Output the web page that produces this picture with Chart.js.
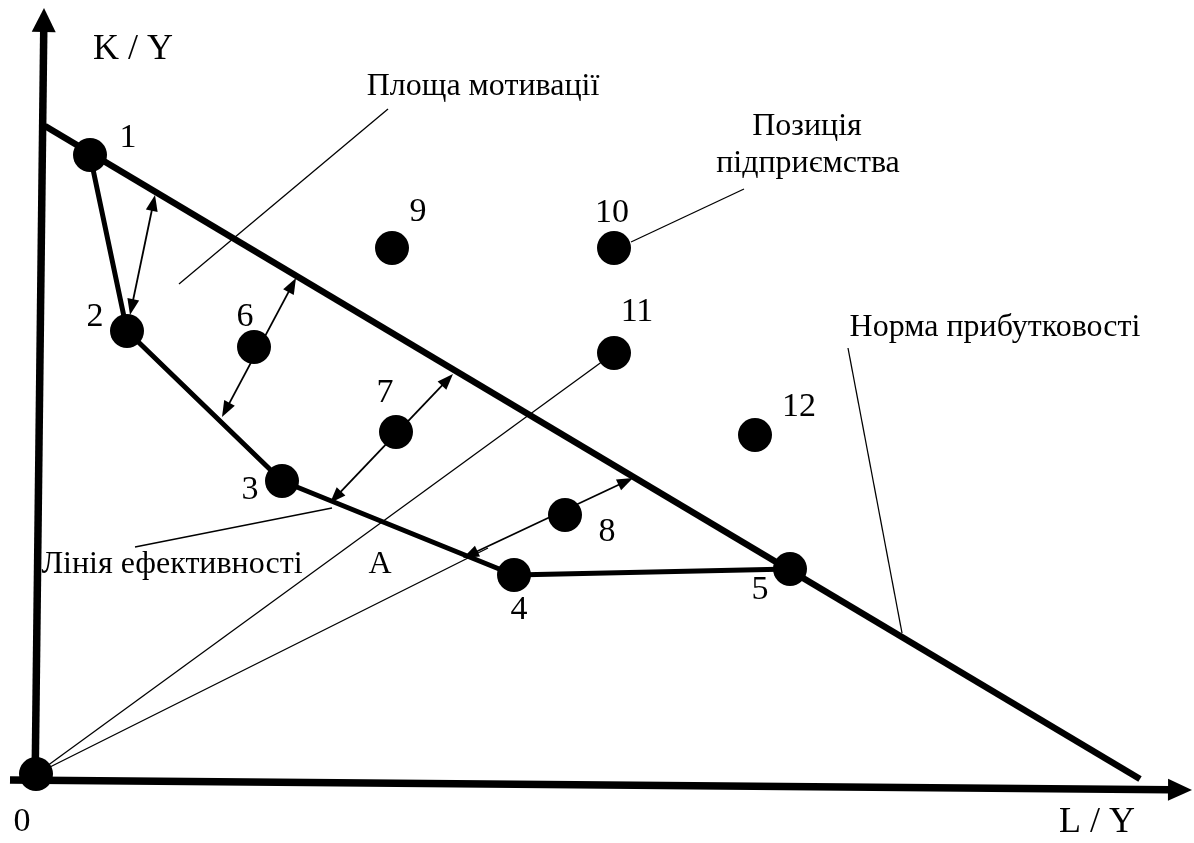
<!DOCTYPE html>
<html>
<head>
<meta charset="utf-8">
<script src="https://cdn.jsdelivr.net/npm/chart.js@4/dist/chart.umd.min.js"></script>
<style>
  html, body { margin: 0; padding: 0; background: #fff; }
  #wrap { width: 1194px; height: 843px; }
</style>
</head>
<body>
<div id="wrap"><canvas id="chart"></canvas></div>
<script>
// Координати в умовних одиницях: x = L/Y, y = K/Y, початок у точці 0
const pointNames = ['0', '1', '2', '3', '4', '5', '6', '7', '8', '9', '10', '11', '12'];
const pointX = [0, 54, 91, 246, 478, 754, 218, 360, 529, 356, 578, 578, 719];
const pointY = [0, 619, 443, 293, 199, 205, 427, 342, 259, 526, 526, 421, 339];

// лінія ефективності: 1-2-3-4-5
const efficiencyIdx = [1, 2, 3, 4, 5];

// норма прибутковості
const normaX = [9, 1104];
const normaY = [648, -5];

// промені з початку координат
const rayEndX = [578, 452];
const rayEndY = [421, 226];

// виноски [x1, y1, x2, y2]
const leaders = [
  [143, 490, 352, 665],   // Площа мотивації
  [595, 532, 708, 585],   // Позиція підприємства
  [812, 426, 866, 141],   // Норма прибутковості
  [99, 227, 296, 266]     // Лінія ефективності
];

// двосторонні стрілки (відстань до норми)
const arrows = [
  [94, 459, 119, 579],
  [186, 357, 260, 496],
  [294, 271, 417, 400],
  [427, 216, 597, 296]
];

// осі
const axisY = [-1, -16, 8, 766];
const axisX = [-26, -6, 1156, -16];

// підписи
const numLabelX = [-14, 92, 59, 214, 483, 724, 209, 349, 571, 382, 576, 601, 763];
const numLabelY = [-48, 636, 457, 284, 164, 184, 457, 381, 242, 562, 561, 462, 367];
const textLabels = [
  ['K / Y', 97, 724, 36],
  ['L / Y', 1061, -49, 36],
  ['A', 344, 209, 32],
  ['Площа мотивації', 447, 687, 32],
  ['Позиція', 771, 647, 32],
  ['підприємства', 772, 610, 32],
  ['Норма прибутковості', 959, 446, 32],
  ['Лінія ефективності', 136, 209, 32]
];

const FONT = "'Liberation Serif', 'Times New Roman', serif";

function seg(x1, y1, x2, y2, width) {
  return {
    type: 'line',
    data: [{x: x1, y: y1}, {x: x2, y: y2}],
    borderColor: '#000',
    borderWidth: width,
    pointRadius: 0,
    clip: false,
    order: 2
  };
}

const datasets = [];

datasets.push({
  type: 'scatter',
  data: pointX.map((x, i) => ({x: x, y: pointY[i]})),
  backgroundColor: '#000',
  borderWidth: 0,
  pointRadius: 17,
  clip: false,
  order: 0
});

datasets.push({
  type: 'line',
  data: efficiencyIdx.map(i => ({x: pointX[i], y: pointY[i]})),
  borderColor: '#000',
  borderWidth: 5,
  borderJoinStyle: 'round',
  pointRadius: 0,
  clip: false,
  order: 1
});

datasets.push(seg(normaX[0], normaY[0], normaX[1], normaY[1], 6.5));
rayEndX.forEach((x, i) => datasets.push(seg(0, 0, x, rayEndY[i], 1.3)));
leaders.forEach(l => datasets.push(seg(l[0], l[1], l[2], l[3], 1.3)));

function head(ctx, x1, y1, x2, y2, len, half) {
  const a = Math.atan2(y2 - y1, x2 - x1);
  ctx.beginPath();
  ctx.moveTo(x2, y2);
  ctx.lineTo(x2 - len * Math.cos(a) + half * Math.sin(a), y2 - len * Math.sin(a) - half * Math.cos(a));
  ctx.lineTo(x2 - len * Math.cos(a) - half * Math.sin(a), y2 - len * Math.sin(a) + half * Math.cos(a));
  ctx.closePath();
  ctx.fill();
}

function drawArrow(chart, a, width, len, half, both) {
  const ctx = chart.ctx;
  const sx = chart.scales.x, sy = chart.scales.y;
  const x1 = sx.getPixelForValue(a[0]), y1 = sy.getPixelForValue(a[1]);
  const x2 = sx.getPixelForValue(a[2]), y2 = sy.getPixelForValue(a[3]);
  const ang = Math.atan2(y2 - y1, x2 - x1);
  ctx.save();
  ctx.strokeStyle = '#000';
  ctx.fillStyle = '#000';
  ctx.lineWidth = width;
  ctx.beginPath();
  if (both) ctx.moveTo(x1 + (len - 2) * Math.cos(ang), y1 + (len - 2) * Math.sin(ang));
  else ctx.moveTo(x1, y1);
  ctx.lineTo(x2 - (len - 2) * Math.cos(ang), y2 - (len - 2) * Math.sin(ang));
  ctx.stroke();
  head(ctx, x1, y1, x2, y2, len, half);
  if (both) head(ctx, x2, y2, x1, y1, len, half);
  ctx.restore();
}

const diagramPlugin = {
  id: 'diagram',
  beforeDatasetsDraw(chart) {
    drawArrow(chart, axisY, 7.5, 24, 12, false);
    drawArrow(chart, axisX, 7.5, 24, 11, false);
  },
  afterDatasetsDraw(chart) {
    arrows.forEach(a => drawArrow(chart, a, 1.8, 16, 6, true));
    const ctx = chart.ctx;
    const sx = chart.scales.x, sy = chart.scales.y;
    ctx.save();
    ctx.fillStyle = '#000';
    ctx.textAlign = 'center';
    ctx.textBaseline = 'middle';
    ctx.font = '34px ' + FONT;
    pointNames.forEach((n, i) => {
      ctx.fillText(n, sx.getPixelForValue(numLabelX[i]), sy.getPixelForValue(numLabelY[i]));
    });
    textLabels.forEach(t => {
      ctx.font = t[3] + 'px ' + FONT;
      ctx.fillText(t[0], sx.getPixelForValue(t[1]), sy.getPixelForValue(t[2]));
    });
    ctx.restore();
  }
};

new Chart(document.getElementById('chart'), {
  type: 'scatter',
  data: { datasets: datasets },
  options: {
    responsive: true,
    maintainAspectRatio: false,
    animation: false,
    layout: { padding: 0, autoPadding: false },
    plugins: { legend: { display: false }, tooltip: { enabled: false } },
    scales: {
      x: { type: 'linear', min: -36, max: 1158, display: false },
      y: { type: 'linear', min: -69, max: 774, display: false }
    }
  },
  plugins: [diagramPlugin]
});
</script>
</body>
</html>
